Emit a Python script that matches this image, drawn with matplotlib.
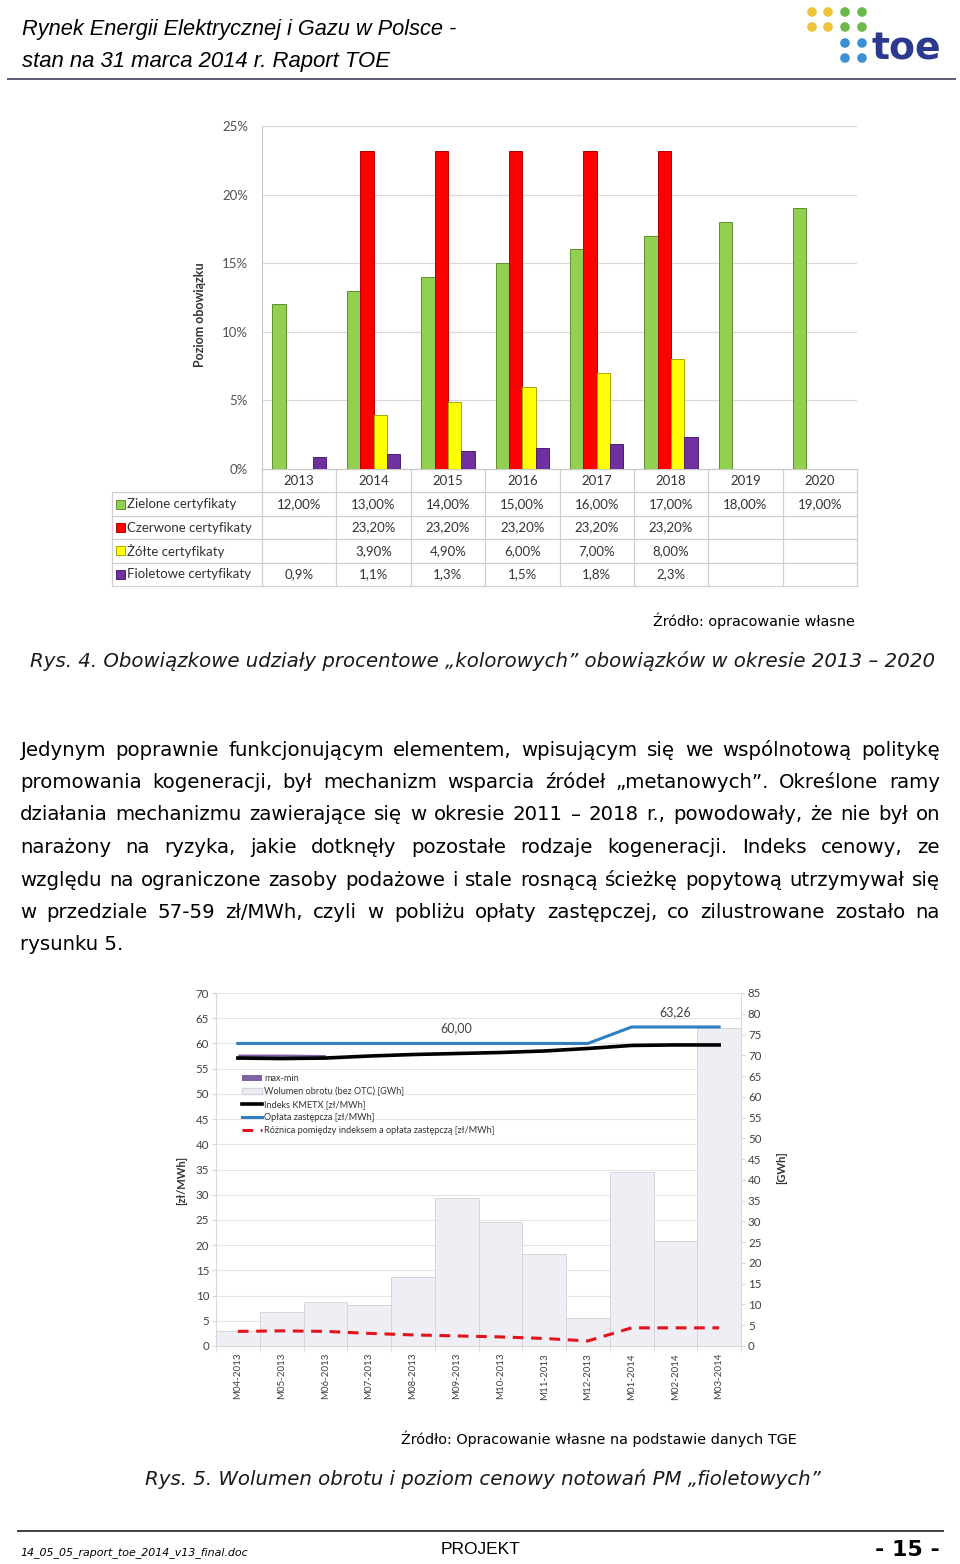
import numpy as np
import matplotlib
matplotlib.use('Agg')
import matplotlib.pyplot as plt
from matplotlib import font_manager
from matplotlib.patches import Patch, Circle
from matplotlib.lines import Line2D

installed = {f.name for f in font_manager.fontManager.ttflist}


def pick(*names):
    for n in names:
        if n in installed:
            return n
    return 'DejaVu Sans'


BODY = 'DejaVu Sans'
NARROW = pick('Liberation Sans Narrow', 'DejaVu Sans Condensed', 'Liberation Sans')
CHART = pick('Lato', 'Open Sans')
plt.rcParams['font.family'] = [CHART, 'DejaVu Sans']

# --- Rys. 4: obowiazki "kolorowe" ---
years = ['2013', '2014', '2015', '2016', '2017', '2018', '2019', '2020']
nan = np.nan
green = [12.0, 13.0, 14.0, 15.0, 16.0, 17.0, 18.0, 19.0]
red = [nan, 23.2, 23.2, 23.2, 23.2, 23.2, nan, nan]
yellow = [nan, 3.9, 4.9, 6.0, 7.0, 8.0, nan, nan]
purple = [0.9, 1.1, 1.3, 1.5, 1.8, 2.3, nan, nan]
cert_names = ['Zielone certyfikaty', 'Czerwone certyfikaty', 'Żółte certyfikaty', 'Fioletowe certyfikaty']

# --- Rys. 5: PM fioletowe ---
months = ['M04-2013', 'M05-2013', 'M06-2013', 'M07-2013', 'M08-2013', 'M09-2013',
          'M10-2013', 'M11-2013', 'M12-2013', 'M01-2014', 'M02-2014', 'M03-2014']
volume = [3.6, 8.3, 10.5, 9.9, 16.5, 35.7, 29.9, 22.2, 6.8, 41.8, 25.3, 76.6]
kmetx = [57.1, 57.0, 57.1, 57.5, 57.8, 58.0, 58.2, 58.5, 59.0, 59.6, 59.7, 59.7]
oplata = [60.0, 60.0, 60.0, 60.0, 60.0, 60.0, 60.0, 60.0, 60.0, 63.26, 63.26, 63.26]
roznica = [2.9, 3.0, 2.9, 2.5, 2.2, 2.0, 1.8, 1.5, 1.0, 3.6, 3.6, 3.6]
mm_low = [57.1, 57.0, 57.1, nan, nan, nan, nan, nan, nan, nan, nan, nan]
mm_high = [57.9, 57.9, 57.8, nan, nan, nan, nan, nan, nan, nan, nan, nan]
legend_names = ['max-min', 'Wolumen obrotu (bez OTC) [GWh]', 'Indeks KMETX [zł/MWh]',
                'Opłata zastępcza [zł/MWh]', 'Różnica pomiędzy indeksem a opłata zastępczą [zł/MWh]']

paragraph = [
    'Jedynym poprawnie funkcjonującym elementem, wpisującym się we wspólnotową politykę',
    'promowania kogeneracji, był mechanizm wsparcia źródeł „metanowych”. Określone ramy',
    'działania mechanizmu zawierające się w okresie 2011 – 2018 r., powodowały, że nie był on',
    'narażony na ryzyka, jakie dotknęły pozostałe rodzaje kogeneracji. Indeks cenowy, ze',
    'względu na ograniczone zasoby podażowe i stale rosnącą ścieżkę popytową utrzymywał się',
    'w przedziale 57-59 zł/MWh, czyli w pobliżu opłaty zastępczej, co zilustrowane zostało na',
    'rysunku 5.',
]

fig = plt.figure(figsize=(9.6, 15.64), dpi=100)
page = fig.add_axes([0, 0, 1, 1])
page.set_xlim(0, 960)
page.set_ylim(1564, 0)
page.axis('off')
renderer = fig.canvas.get_renderer()


def put(x, y, s, width=None, fs=10, ha='left', **kw):
    kw.setdefault('family', BODY)
    t = page.text(x, y, s, fontsize=fs, ha=ha, va='center', **kw)
    if width:
        w = t.get_window_extent(renderer).width
        t.set_fontsize(fs * width / w)
    return t


def justify(line, y, x0, x1, fs, last=False):
    if last:
        page.text(x0, y, line, fontsize=fs, family=BODY, va='center')
        return
    words = line.split(' ')
    ts = [page.text(0, y, w, fontsize=fs, family=BODY, va='center') for w in words]
    ws = [t.get_window_extent(renderer).width for t in ts]
    gap = (x1 - x0 - sum(ws)) / (len(words) - 1)
    x = x0
    for t, w in zip(ts, ws):
        t.set_x(x)
        x += w + gap


# header
put(22, 29, 'Rynek Energii Elektrycznej i Gazu w Polsce -', width=435, family=NARROW, style='italic')
put(22, 61, 'stan na 31 marca 2014 r. Raport TOE', width=370, family=NARROW, style='italic')
page.plot([8, 955], [79, 79], color='#5a5a78', lw=1.4)
for cx, cy, c in [(812, 12, '#eec43a'), (828, 12, '#eec43a'), (845, 12, '#6cb84a'), (862, 12, '#6cb84a'),
                  (812, 27, '#eec43a'), (828, 27, '#eec43a'), (845, 27, '#6cb84a'), (862, 27, '#6cb84a'),
                  (845, 43, '#3c8fd2'), (862, 43, '#3c8fd2'), (845, 58, '#3c8fd2'), (862, 58, '#3c8fd2')]:
    page.add_patch(Circle((cx, cy), 4.8, color=c, lw=0))
put(872, 50, 'toe', width=70, family='DejaVu Sans', weight='bold', color='#2b3a8f')

# chart 1
PL, PR = 262, 857
ax1 = fig.add_axes([PL / 960, 1 - 469 / 1564, (PR - PL) / 960, 343 / 1564])
x = np.arange(len(years))
bw = 0.18
cert = [(green, '#92d050', '#5f8f30'), (red, '#ff0000', '#b00000'),
        (yellow, '#ffff00', '#a8a800'), (purple, '#7030a0', '#4a1f6e')]
for k, (vals, fc, ec) in enumerate(cert):
    ax1.bar(x + (k - 1.5) * bw, vals, bw, color=fc, edgecolor=ec, linewidth=0.7, zorder=3)
ax1.set_xlim(-0.5, len(years) - 0.5)
ax1.set_ylim(0, 25)
ax1.set_yticks(range(0, 26, 5))
ax1.set_yticklabels([f'{v}%' for v in range(0, 26, 5)])
ax1.set_xticks([])
ax1.grid(axis='y', color='#d9d9d9', lw=0.9)
ax1.set_axisbelow(True)
for s in ['top', 'right']:
    ax1.spines[s].set_visible(False)
ax1.spines['left'].set_color('#c8c8c8')
ax1.spines['bottom'].set_color('#c8c8c8')
ax1.tick_params(axis='y', length=0, pad=10, labelsize=9.5, labelcolor='#505050')
put(200, 315, 'Poziom obowiązku', fs=9, family=CHART, weight='bold', rotation=90,
    ha='center', color='#333333')

# data table
cat_w = (PR - PL) / len(years)
rows_y = np.linspace(469, 586, 6)
tc = '#d0d0d0'
for i, yy in enumerate(rows_y):
    page.plot([PL if i == 0 else 112, PR], [yy, yy], color=tc, lw=0.9)
page.plot([112, 112], [rows_y[1], rows_y[-1]], color=tc, lw=0.9)
for i in range(len(years) + 1):
    xx = PL + i * cat_w
    page.plot([xx, xx], [rows_y[0], rows_y[-1]], color=tc, lw=0.9)
for i, yr in enumerate(years):
    put(PL + (i + 0.5) * cat_w, (rows_y[0] + rows_y[1]) / 2, yr, fs=9.5, family=CHART,
        ha='center', color='#333333')
for r, (name, (vals, fc, ec)) in enumerate(zip(cert_names, cert)):
    yc = (rows_y[r + 1] + rows_y[r + 2]) / 2
    page.add_patch(plt.Rectangle((116, yc - 4.5), 9, 9, facecolor=fc, edgecolor=ec, lw=0.7))
    put(127, yc, name, fs=9.5, family=CHART, color='#333333')
    dec = 1 if r == 3 else 2
    for i, v in enumerate(vals):
        if not np.isnan(v):
            put(PL + (i + 0.5) * cat_w, yc, f'{v:.{dec}f}%'.replace('.', ','), fs=9.5,
                family=CHART, ha='center', color='#333333')

put(855, 621, 'Źródło: opracowanie własne', width=203, ha='right')
put(30, 661, 'Rys. 4. Obowiązkowe udziały procentowe „kolorowych” obowiązków w okresie 2013 – 2020',
    width=903, style='italic', color='#1a1a1a')

# paragraph: font sized so the tightest line fills the column
probe = [page.text(0, 0, l, fontsize=10, family=BODY) for l in paragraph[:-1]]
widest = max(t.get_window_extent(renderer).width for t in probe)
for t in probe:
    t.remove()
fs = 10 * 912 / widest
for i, line in enumerate(paragraph):
    justify(line, 750 + i * 32.5, 20, 940, fs, last=(i == len(paragraph) - 1))

# chart 2
ax = fig.add_axes([216 / 960, 1 - 1346 / 1564, 525 / 960, 353 / 1564])
ax2 = ax.twinx()
ax3 = ax.twinx()
m = np.arange(len(months))
ax2.bar(m, volume, 1.0, color='#efeef4', edgecolor='#d6d4de', linewidth=0.7)
ax3.fill_between(m, mm_low, mm_high, color='#8064a2', lw=0)
ax3.plot(m, kmetx, color='black', lw=2.6)
ax3.plot(m, oplata, color='#2f7fc1', lw=2.2)
ax3.plot(m, roznica, color='#e3131b', lw=2.2, dashes=(3.5, 2.5))
for i in (5, 10):
    ax3.annotate(f'{oplata[i]:.2f}'.replace('.', ','), (m[i], oplata[i]), xytext=(0, 11),
                 textcoords='offset points', ha='center', va='center', fontsize=9, color='#404040')
for a, top in ((ax, 70), (ax2, 85), (ax3, 70)):
    a.set_xlim(-0.5, len(months) - 0.5)
    a.set_ylim(0, top)
ax.set_yticks(range(0, 71, 5))
ax2.set_yticks(range(0, 86, 5))
ax.grid(axis='y', color='#e4e4e4', lw=0.8)
ax.set_axisbelow(True)
for s in ['top', 'right']:
    ax.spines[s].set_visible(False)
for s in ['top', 'left', 'bottom']:
    ax2.spines[s].set_visible(False)
for sp in (ax.spines['left'], ax.spines['bottom'], ax2.spines['right']):
    sp.set_color('#d9d9d9')
ax.tick_params(axis='y', length=3, color='#d9d9d9', labelcolor='#404040', labelsize=8.3, pad=2)
ax2.tick_params(axis='y', length=3, color='#d9d9d9', labelcolor='#404040', labelsize=8.3, pad=2)
ax.set_xticks(m)
ax.set_xticklabels(months, rotation=90, fontsize=7, color='#404040')
ax.set_xticks(np.arange(-0.5, len(months), 1), minor=True)
ax.tick_params(axis='x', which='major', length=0, pad=5)
ax.tick_params(axis='x', which='minor', length=4, color='#d9d9d9')
ax3.axis('off')
handles = [Patch(facecolor='#8064a2', edgecolor='none'),
           Patch(facecolor='#efeef4', edgecolor='#d6d4de'),
           Line2D([], [], color='black', lw=2.6),
           Line2D([], [], color='#2f7fc1', lw=2.2),
           Line2D([], [], color='#e3131b', lw=2.2, dashes=(3.5, 2.5))]
ax3.legend(handles, legend_names, loc='upper left', bbox_to_anchor=(0.05, 0.77),
           frameon=False, fontsize=6.6, borderpad=0, borderaxespad=0, labelspacing=0.42,
           handlelength=2.2, handletextpad=0.2, labelcolor='#333333')
put(182, 1180, '[zł/MWh]', fs=8, family=CHART, weight='bold', rotation=90, ha='center', color='#333333')
put(782, 1168, '[GWh]', fs=8, family=CHART, weight='bold', rotation=90, ha='center', color='#333333')

put(797, 1439, 'Źródło: Opracowanie własne na podstawie danych TGE', width=397, ha='right')
put(145, 1479, 'Rys. 5. Wolumen obrotu i poziom cenowy notowań PM „fioletowych”', width=675,
    style='italic', color='#1a1a1a')

# footer
page.plot([18, 943], [1531, 1531], color='#404040', lw=1.4)
put(20, 1553, '14_05_05_raport_toe_2014_v13_final.doc', width=228, style='italic')
put(480, 1550, 'PROJEKT', width=80, family=NARROW, ha='center')
put(940, 1550, '- 15 -', width=65, weight='bold', ha='right')

fig.savefig('out.png', dpi=100)
